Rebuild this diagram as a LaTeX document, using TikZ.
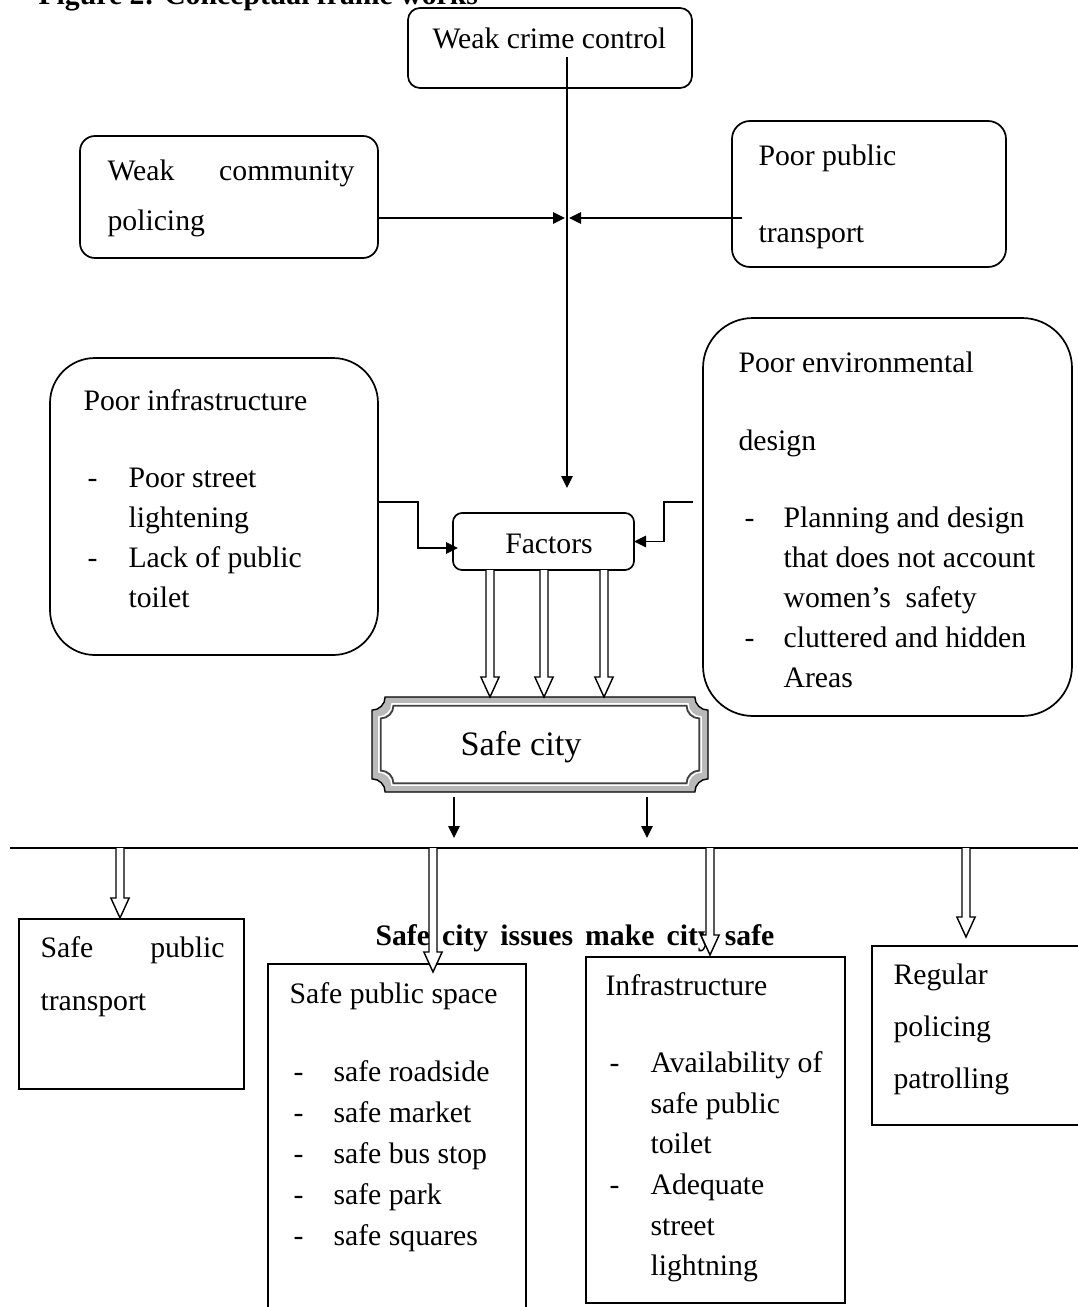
\documentclass[tikz,border=0pt]{standalone}
\usepackage{fontspec}
\setmainfont{Liberation Serif}
\usetikzlibrary{arrows.meta,calc}

% frame with cut-in corners round the node safe: #1 inset, #2 notch (pt), #3 style
\newcommand\notchframe[3]{%
  \def\fa{#1pt}\def\fr{#2pt}%
  \path[#3] let \p1=(safe.north west), \p2=(safe.south east) in
    ({\x1+\fa+\fr},{\y1-\fa}) -- ({\x2-\fa-\fr},{\y1-\fa})
    .. controls ({\x2-\fa-\fr},{\y1-\fa-0.55*\fr}) and ({\x2-\fa-0.55*\fr},{\y1-\fa-\fr}) .. ({\x2-\fa},{\y1-\fa-\fr})
    -- ({\x2-\fa},{\y2+\fa+\fr})
    .. controls ({\x2-\fa-0.55*\fr},{\y2+\fa+\fr}) and ({\x2-\fa-\fr},{\y2+\fa+0.55*\fr}) .. ({\x2-\fa-\fr},{\y2+\fa})
    -- ({\x1+\fa+\fr},{\y2+\fa})
    .. controls ({\x1+\fa+\fr},{\y2+\fa+0.55*\fr}) and ({\x1+\fa+0.55*\fr},{\y2+\fa+\fr}) .. ({\x1+\fa},{\y2+\fa+\fr})
    -- ({\x1+\fa},{\y1-\fa-\fr})
    .. controls ({\x1+\fa+0.55*\fr},{\y1-\fa-\fr}) and ({\x1+\fa+\fr},{\y1-\fa-0.55*\fr}) .. ({\x1+\fa+\fr},{\y1-\fa})
    -- cycle;}

\begin{document}
\begin{tikzpicture}[x=0.35pt,y=-0.35pt,
    box/.style={draw,line width=0.6pt,inner sep=0pt,outer sep=0pt},
    txt/.style={anchor=base west,inner sep=0pt,font=\fontsize{10.4}{14}\selectfont},
    link/.style={line width=0.5pt,-{Triangle[length=4.2pt,width=4pt]}},
    hollow/.style={line width=0.5pt,fill=white,to path={let \p1=(\tikztostart),\p2=(\tikztotarget) in
        (\x1-1.4pt,\y1) -- (\x1-1.4pt,\y2+7pt) -- (\x1-3.2pt,\y2+7pt) -- (\x2,\y2)
        -- (\x1+3.2pt,\y2+7pt) -- (\x1+1.4pt,\y2+7pt) -- (\x1+1.4pt,\y1)}}]
    \useasboundingbox (0,0) rectangle (1077,1307);

    \node[txt,font=\bfseries\fontsize{10.4}{14}\selectfont] (title) at (38,4) {Figure 2: Conceptual frame works};

    % boxes
    \node[box,rounded corners=4.2pt,minimum width=99.4pt,minimum height=28pt] (crime) at (550,48) {};
    \node[box,rounded corners=5.25pt,minimum width=104.3pt,minimum height=42.7pt] (comm) at (229,197) {};
    \node[box,rounded corners=6.3pt,minimum width=95.9pt,minimum height=51.1pt] (trans) at (869,194) {};
    \node[box,rounded corners=15.75pt,minimum width=114.8pt,minimum height=103.95pt] (infra) at (214,506.5) {};
    \node[box,rounded corners=3.15pt,minimum width=63.35pt,minimum height=19.95pt] (factors) at (543.5,541.5) {};
    \node[box,rounded corners=17.5pt,minimum width=129.15pt,minimum height=139.3pt] (env) at (887.5,517) {};
    \node[inner sep=0pt,outer sep=0pt,minimum width=117.6pt,minimum height=33.25pt] (safe) at (540,744.5) {};
    \node[box,minimum width=78.75pt,minimum height=59.5pt] (sptrans) at (131.5,1004) {};
    \node[box,minimum width=90.3pt,minimum height=124.6pt] (space) at (397,1142) {};
    \node[box,minimum width=90.65pt,minimum height=121.1pt] (infrabox) at (715.5,1130) {};
    \node[box,minimum width=76.3pt,minimum height=62.65pt] (regular) at (981,1035.5) {};

    \notchframe{0}{4.6}{draw=black,fill=gray!55,line width=0.5pt}
    \notchframe{2.4}{4.6}{draw=white,line width=0.5pt}
    \notchframe{3.1}{4.4}{draw=black!75,fill=white,line width=0.6pt}

    % texts
    \node[txt] (crimetxt) at (432,48) {Weak crime control};
    \node[txt] (commtxt) at (107,180) {\makebox[86.45pt][s]{Weak community}};
    \node[txt] (commtxt2) at (107,230) {policing};
    \node[txt] (transtxt) at (758,165) {Poor public};
    \node[txt] (transtxt2) at (758,242) {transport};
    \node[txt] (infratxt) at (83,410) {Poor infrastructure};
    \foreach \yy in {487,567}
        \node[txt] (infradash\yy) at (87,\yy) {-};
    \foreach \yy/\lbl in {487/Poor street,527/lightening,567/Lack of public,607/toilet}
        \node[txt] (infra\yy) at (128,\yy) {\lbl};
    \node[anchor=base,inner sep=0pt,font=\fontsize{10.4}{14}\selectfont] (factorstxt) at (549,553) {Factors};
    \node[txt] (envtxt) at (738,372) {Poor environmental};
    \node[txt] (envtxt2) at (738,450) {design};
    \foreach \yy in {527,647}
        \node[txt] (envdash\yy) at (744,\yy) {-};
    \foreach \yy/\lbl in {527/Planning and design,567/that does not account,607/women’s\ \ safety,647/cluttered and hidden,687/Areas}
        \node[txt] (env\yy) at (783,\yy) {\lbl};
    \node[anchor=base,inner sep=0pt,font=\fontsize{12}{14}\selectfont] (safetxt) at (521,755) {Safe city};
    \node[txt,font=\bfseries\fontsize{10.4}{14}\selectfont] (issues) at (375,945) {\makebox[139.6pt][s]{Safe city issues make city safe}};
    \node[txt] (sptranstxt) at (40,957) {\makebox[64.4pt][s]{Safe public}};
    \node[txt] (sptranstxt2) at (40,1010) {transport};
    \node[txt] (spacetxt) at (289,1003) {Safe public space};
    \foreach \yy in {1081,1122,1163,1204,1245}
        \node[txt] (spacedash\yy) at (293,\yy) {-};
    \foreach \yy/\lbl in {1081/safe roadside,1122/safe market,1163/safe bus stop,1204/safe park,1245/safe squares}
        \node[txt] (space\yy) at (333,\yy) {\lbl};
    \node[txt] (infraboxtxt) at (605,995) {Infrastructure};
    \foreach \yy in {1072,1194}
        \node[txt] (infraboxdash\yy) at (609,\yy) {-};
    \foreach \yy/\lbl in {1072/Availability of,1113/safe public,1153/toilet,1194/Adequate,1235/street,1275/lightning}
        \node[txt] (infrabox\yy) at (650,\yy) {\lbl};
    \node[txt] (regulartxt) at (893,984) {Regular};
    \node[txt] (regulartxt2) at (893,1036) {policing};
    \node[txt] (regulartxt3) at (893,1088) {patrolling};

    % connectors
    \coordinate (c0) at (567,57);
    \coordinate (c1) at (567,488);
    \coordinate (jl) at (565,218);
    \coordinate (jr) at (569,218);
    \coordinate (t0) at (742,218);
    \coordinate (i1) at (418,502);
    \coordinate (f1) at (458,548);
    \coordinate (e0) at (693,502);
    \coordinate (e1) at (664,502);
    \draw[link] (c0) -- (c1);
    \draw[link] (comm.east |- jl) -- (jl);
    \draw[link] (t0) -- (jr);
    \draw[link] (infra.east |- i1) -- (i1) |- (f1);
    \draw[link] (e0) -- (e1) |- (factors.east);

    \foreach \xx in {490,544,604} {
        \coordinate (h\xx) at (\xx,0);
        \draw[hollow] (factors.south -| h\xx) to (safe.north -| h\xx);
    }

    \coordinate (d1) at (454,797);
    \coordinate (d2) at (454,838);
    \coordinate (d3) at (647,797);
    \coordinate (d4) at (647,838);
    \draw[link] (d1) -- (d2);
    \draw[link] (d3) -- (d4);

    \coordinate (bl) at (10,848);
    \coordinate (br) at (1085,848);
    \draw[line width=0.6pt] (bl) -- (br);

    \foreach \xx/\yy/\nm in {120/918/a,433/972/b,710/955/c,966/937/d} {
        \coordinate (top\nm) at (\xx,848);
        \coordinate (tip\nm) at (\xx,\yy);
        \draw[hollow] (top\nm) to (tip\nm);
    }
\end{tikzpicture}
\end{document}
